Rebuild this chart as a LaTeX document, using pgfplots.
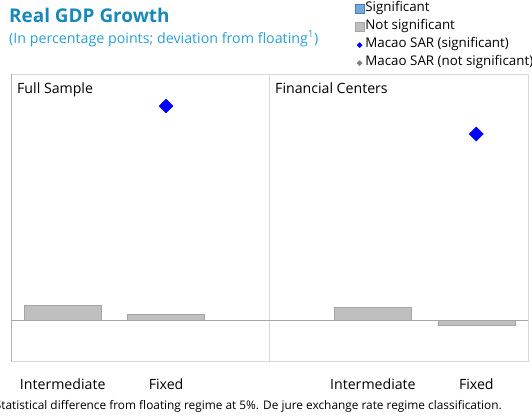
\documentclass[border=0pt]{standalone}
\usepackage{pgfplots}
\pgfplotsset{compat=1.18}
\usepackage{fontspec}
\setmainfont{Open Sans}

\definecolor{titleblue}{RGB}{24,136,184}
\definecolor{subblue}{RGB}{42,160,210}
\definecolor{sigblue}{RGB}{91,155,213}
\definecolor{barfill}{RGB}{191,191,191}
\definecolor{baredge}{RGB}{165,165,165}
\definecolor{frame}{RGB}{217,217,217}

\begin{document}
\begin{tikzpicture}[x=1bp,y=1bp]
	\path[use as bounding box] (0,0) rectangle (532,-418);

	% titles
	\node[anchor=base west,inner sep=0pt,text=titleblue,font=\fontsize{19}{22}\selectfont\bfseries] at (9,-22) {Real GDP Growth};
	\node[anchor=base west,inner sep=0pt,text=subblue,font=\fontsize{14.3}{16}\selectfont] at (9,-43) {(In percentage points; deviation from floating\textsuperscript{1})};

	\begin{axis}[
		at={(11bp,-361bp)}, anchor=south west,
		scale only axis,
		width=517bp, height=287bp,
		xmin=0.5, xmax=5.5,
		ymin=-2.05, ymax=12.3,
		axis line style={frame, line width=1pt},
		xtick={1,2,4,5},
		xticklabels={Intermediate,Fixed,Intermediate,Fixed},
		major tick length=0pt,
		xticklabel style={anchor=base, yshift=-28bp, font=\fontsize{14.2}{16}\selectfont},
		ytick=\empty,
		extra x ticks={3},
		extra x tick labels={},
		extra x tick style={grid=major, major grid style={frame, line width=0.8pt}},
		legend style={
			at={(0.665,1.258)}, anchor=north west,
			draw=none, fill=none,
			font=\fontsize{13.4}{15}\selectfont,
			row sep=0pt,
			inner sep=0pt,
			nodes={inner sep=1pt, text height=10bp, text depth=6bp},
		},
		legend cell align=left,
		clip=false,
	]
		% zero line
		\addplot[baredge, line width=0.8pt, forget plot] coordinates {(0.5,0) (5.5,0)};

		\addlegendimage{legend image code/.code={\draw[sigblue!80!black, fill=sigblue!85] (0bp,-4.5bp) rectangle (9bp,4.5bp);}}
		\addlegendentry{Significant}
		\addlegendimage{legend image code/.code={\draw[baredge, fill=barfill] (0bp,-4.5bp) rectangle (9bp,4.5bp);}}
		\addlegendentry{Not significant}

		\addplot[ybar, bar width=77bp, fill=barfill, draw=baredge, forget plot]
			coordinates {(1,0.75) (2,0.3) (4,0.65) (5,-0.25)};

		\addplot[only marks, mark=square*, mark size=5bp, mark options={rotate=45, fill=blue, draw=blue}, forget plot]
			coordinates {(2,10.7) (5,9.3)};

		\addlegendimage{legend image code/.code={\fill[blue] (4.5bp,0bp) +(-2.6bp,0) -- +(0,2.6bp) -- +(2.6bp,0) -- +(0,-2.6bp) -- cycle;}}
		\addlegendentry{Macao SAR (significant)}
		\addlegendimage{legend image code/.code={\fill[gray] (4.5bp,0bp) +(-2.6bp,0) -- +(0,2.6bp) -- +(2.6bp,0) -- +(0,-2.6bp) -- cycle;}}
		\addlegendentry{Macao SAR (not significant)}

		\draw[gray!60, line width=0.8pt] (rel axis cs:0,0) -- (rel axis cs:0,1);
	\end{axis}

	% panel titles
	\node[anchor=base west,inner sep=0pt,font=\fontsize{14.2}{16}\selectfont] at (17,-93) {Full Sample};
	\node[anchor=base west,inner sep=0pt,font=\fontsize{14.2}{16}\selectfont] at (275,-93) {Financial Centers};

	% footnote
	\node[anchor=base east,inner sep=0pt,font=\fontsize{11.9}{14}\selectfont] at (502,-409) {Statistical difference from floating regime at 5\%. De jure exchange rate regime classification.};
\end{tikzpicture}
\end{document}
